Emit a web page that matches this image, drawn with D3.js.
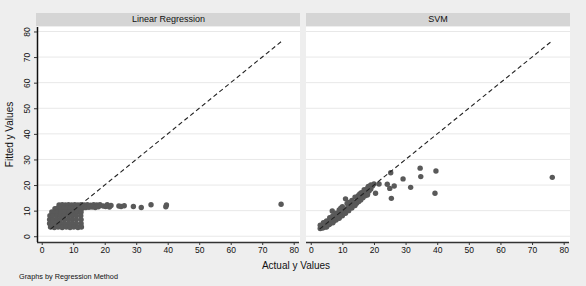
<!DOCTYPE html>
<html><head><meta charset="utf-8">
<script src="https://cdn.jsdelivr.net/npm/d3@7"></script>
<style>body{margin:0;background:#eeeeee;}svg{display:block;font-family:"Liberation Sans",Arial,sans-serif;}</style>
</head><body>
<script>
const panels = ["Linear Regression", "SVM"];
const xTicks = [0,10,20,30,40,50,60,70,80];
const yTicks = [0,10,20,30,40,50,60,70,80];
const refLine = [[2.8,2.8],[76,76]];
// Linear regression: actual (x) vs fitted (y)
const lrX = [5.5,6.5,7.5,8.5,9.5,10.5,11.5,12.5,13.5,14.5,15.5,16.5,17.5,18.5,
 4.2,5,6,7,8,9,10,11,12,13,14,15,16,17,18,19.5,
 3.2,4,5,6.2,7.5,8.7,10,11.2,12.5,
 2.6,3.5,4.8,6,7.2,8.5,9.7,11,12.4,
 2.5,3.6,4.8,6,7.2,8.5,9.7,11,12.5,
 2.5,3.6,4.8,6,7.2,8.5,9.7,11,12.5,
 2.8,4,5.2,6.5,7.8,9,10.2,11.5,12.6,
 20.3,20.8,21.5,22,24.5,25.2,26.2,29.1,31.6,34.7,39.4,39.6,76];
const lrY = [12.2,12.3,12.2,12.3,12.2,12.3,12.2,12.3,12.2,12.3,12.1,12.3,12.2,12.3,
 10.8,11,11,11,11,11,11,11,11,11,11.2,11.3,11.4,11.2,11.5,11.8,
 9.5,9.5,9.5,9.5,9.5,9.5,9.5,9.5,9.5,
 8,8,8,8,8,8,8,8,8,
 6.5,6.5,6.5,6.5,6.5,6.5,6.5,6.5,6.5,
 5,5,5,5,5,5,5,5,5,
 3.6,3.4,3.6,3.4,3.6,3.4,3.6,3.4,3.6,
 11.6,12.3,11.4,12,11.8,11.6,11.9,11.6,11.2,12.3,11.5,12.2,12.5];
// SVM: actual (x) vs fitted (y)
const svmX = [3,3.3,3.8,4,4.5,4.8,5.2,5.5,5.8,6,6.5,6.8,7.2,7.5,7.8,8.2,8.5,8.8,9.2,9.5,9.8,10.2,10.5,10.8,11.2,11.5,11.8,12.2,12.5,12.8,13.2,13.5,13.8,14.2,14.5,14.8,15.2,15.5,15.8,16.2,16.5,16.8,17.2,17.5,18,18.5,19,19.5,20,21.6,20.5,17.9,11,6.8,4,5,8,9,12,14,15.5,18.2,16.9,
 5,6,7,8,9,10,11,12,13,14,7,10,11.5,13,15,9.5,6,3,16,17,19,18,
 24.2,25,26.4,25.5,25.3,29.2,31.6,34.6,34.8,39.6,39.3,76.4];
const svmY = [3,3.8,3.2,4.3,3.6,4.8,4.2,5.4,4.6,6.2,5.4,6.6,5.9,7.2,6.5,7.8,7.1,8.4,7.8,9,8.5,9.6,9.1,10.3,9.8,10.9,10.5,11.4,11.1,12,11.7,12.6,12.3,13.2,12.9,13.8,13.6,14.5,14.2,15.2,15,16,15.8,16.8,16.5,17.8,18.5,19.6,20.4,20.4,16.8,16.1,14.6,9.9,5.3,6,9,10.3,13.2,15.3,16.5,19.5,18.2,
 3.6,4.8,5.3,6.3,7,8,9,10,11,12,8,11.5,12.8,14,15.8,11,7.2,4.3,17,17.5,20,18.8,
 20.3,18.7,19.6,14.8,24.8,22.4,19.1,26.6,23.3,25.5,16.8,23];

const W = 586, H = 286;
const svg = d3.select("body").append("svg").attr("width", W).attr("height", H);
svg.append("rect").attr("width", W).attr("height", H).attr("fill", "#eeeeee");

const plotTop = 27, plotBottom = 242;
const boxes = [{l:37, r:300}, {l:306, r:570}];
const y = d3.scaleLinear().domain([-2.25, 81.75]).range([plotBottom, plotTop]);
const data = [d3.zip(lrX, lrY), d3.zip(svmX, svmY)];
const txt = "#111";

boxes.forEach((b, i) => {
  const x = d3.scaleLinear().domain([-1.5, 82]).range([b.l, b.r]);
  svg.append("rect").attr("x", b.l - (i===0?1:0)).attr("y", 13).attr("width", b.r - b.l + (i===0?1:0)).attr("height", 13).attr("fill", "#d5d5d5");
  svg.append("text").attr("x", (b.l + b.r) / 2).attr("y", 22).attr("text-anchor", "middle")
    .attr("font-size", 9).attr("fill", txt).text(panels[i]);
  svg.append("rect").attr("x", b.l).attr("y", plotTop).attr("width", b.r - b.l).attr("height", plotBottom - plotTop).attr("fill", "#ffffff");
  svg.append("g").selectAll("line").data(yTicks).join("line")
    .attr("x1", b.l).attr("x2", b.r).attr("y1", d => y(d)).attr("y2", d => y(d))
    .attr("stroke", "#e8e8e8").attr("stroke-width", 1);
  svg.append("g").selectAll("circle").data(data[i]).join("circle")
    .attr("cx", d => x(d[0])).attr("cy", d => y(d[1])).attr("r", 2.7).attr("fill", "#595959");
  svg.append("path").datum(refLine)
    .attr("d", d3.line().x(d => x(d[0])).y(d => y(d[1])))
    .attr("fill", "none").attr("stroke", "#222").attr("stroke-width", 1.1).attr("stroke-dasharray", "4.5,3");
  const gx = svg.append("g").attr("transform", `translate(0,${plotBottom})`)
    .call(d3.axisBottom(x).tickValues(xTicks).tickSize(3).tickPadding(2));
  gx.select(".domain").attr("d", `M${b.l},0.5H${b.r - 1}`).attr("stroke", "#333").attr("stroke-width", 1.5);
  gx.selectAll(".tick line").attr("stroke", "#333");
  gx.selectAll(".tick text").attr("font-size", 8.5).attr("fill", txt).attr("font-family", "Liberation Sans, Arial, sans-serif");
});

const gy = svg.append("g").attr("transform", `translate(${boxes[0].l},0)`)
  .call(d3.axisLeft(y).tickValues(yTicks).tickSize(3).tickPadding(2));
gy.select(".domain").attr("d", `M0.5,${plotTop}V${plotBottom}`).attr("stroke", "#111").attr("stroke-width", 1.5);
gy.selectAll(".tick line").attr("stroke", "#333");
gy.selectAll(".tick text").attr("font-size", 8.5).attr("fill", txt)
  .attr("font-family", "Liberation Sans, Arial, sans-serif")
  .attr("transform", "rotate(-90)").attr("x", 0).attr("y", -7).attr("dy", 0)
  .attr("text-anchor", "middle");

svg.append("text").attr("transform", `translate(13,${(plotTop + plotBottom) / 2}) rotate(-90)`)
  .attr("text-anchor", "middle").attr("font-size", 10).attr("fill", txt).text("Fitted y Values");
svg.append("text").attr("x", 296).attr("y", 269).attr("text-anchor", "middle")
  .attr("font-size", 10).attr("fill", txt).text("Actual y Values");
svg.append("text").attr("x", 19).attr("y", 279).attr("font-size", 7.3).attr("fill", txt)
  .text("Graphs by Regression Method");
</script>
</body></html>
